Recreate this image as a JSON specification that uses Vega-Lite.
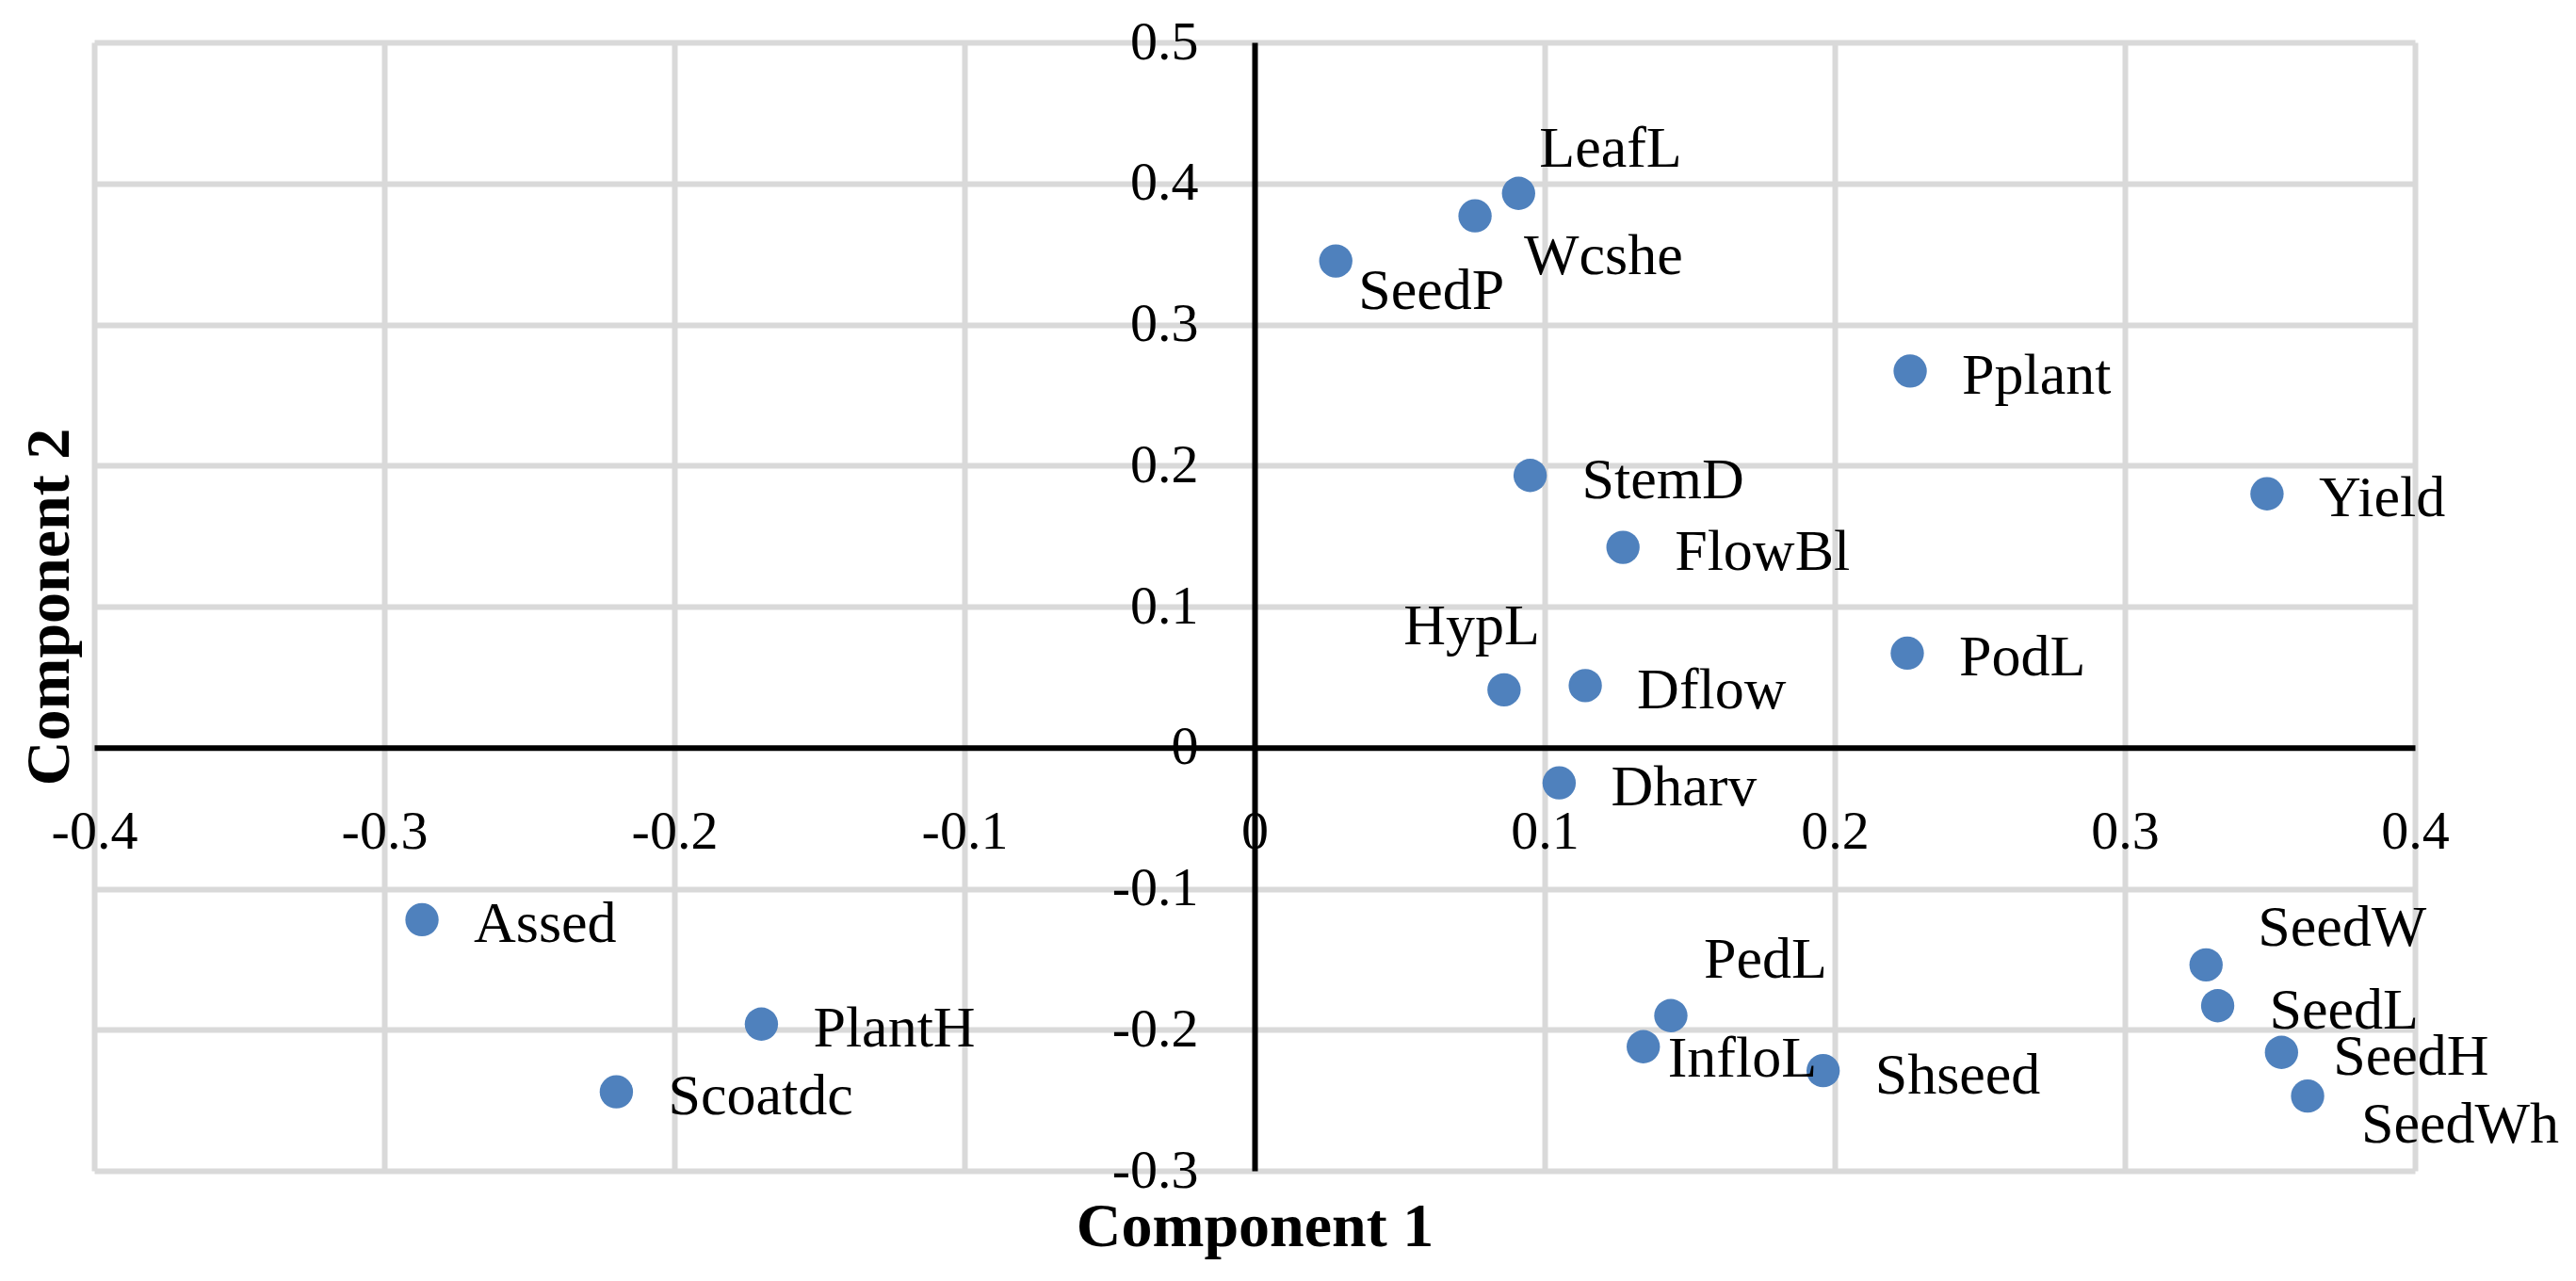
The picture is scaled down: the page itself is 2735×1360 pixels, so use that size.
{
  "$schema": "https://vega.github.io/schema/vega-lite/v6.json",
  "width": 2464,
  "height": 1198,
  "autosize": {"type": "none"},
  "padding": {"left": 100, "top": 45, "right": 171, "bottom": 117},
  "background": "white",
  "config": {"view": {"stroke": null}, "font": "Liberation Serif"},
  "data": {
    "values": [
      {"name": "LeafL", "c1": 0.091, "c2": 0.393},
      {"name": "Wcshe", "c1": 0.076, "c2": 0.377},
      {"name": "SeedP", "c1": 0.028, "c2": 0.345},
      {"name": "Pplant", "c1": 0.226, "c2": 0.267},
      {"name": "StemD", "c1": 0.095, "c2": 0.193},
      {"name": "Yield", "c1": 0.349, "c2": 0.180},
      {"name": "FlowBl", "c1": 0.127, "c2": 0.142},
      {"name": "PodL", "c1": 0.225, "c2": 0.067},
      {"name": "HypL", "c1": 0.086, "c2": 0.041},
      {"name": "Dflow", "c1": 0.114, "c2": 0.044},
      {"name": "Dharv", "c1": 0.105, "c2": -0.025},
      {"name": "Assed", "c1": -0.287, "c2": -0.122},
      {"name": "PlantH", "c1": -0.170, "c2": -0.196},
      {"name": "Scoatdc", "c1": -0.220, "c2": -0.244},
      {"name": "PedL", "c1": 0.1435, "c2": -0.190},
      {"name": "InfloL", "c1": 0.134, "c2": -0.212},
      {"name": "Shseed", "c1": 0.196, "c2": -0.229},
      {"name": "SeedW", "c1": 0.328, "c2": -0.154},
      {"name": "SeedL", "c1": 0.332, "c2": -0.183},
      {"name": "SeedH", "c1": 0.354, "c2": -0.216},
      {"name": "SeedWh", "c1": 0.363, "c2": -0.247}
    ]
  },
  "layer": [
    {
      "mark": {"type": "circle", "opacity": 0},
      "encoding": {
        "x": {
          "field": "c1", "type": "quantitative",
          "scale": {"domain": [-0.4, 0.4], "nice": false, "zero": false},
          "axis": {
            "orient": "bottom",
            "values": [-0.4, -0.3, -0.2, -0.1, 0.1, 0.2, 0.3, 0.4],
            "grid": true, "gridColor": "#D9D9D9", "gridWidth": 6,
            "labels": false, "ticks": false, "domain": false,
            "title": "Component 1", "titleFont": "Liberation Serif", "titleFontSize": 66,
            "titleFontWeight": "bold", "titleColor": "black",
            "titleBaseline": "alphabetic", "titlePadding": 79
          }
        },
        "y": {
          "field": "c2", "type": "quantitative",
          "scale": {"domain": [-0.3, 0.5], "nice": false, "zero": false},
          "axis": {
            "orient": "left",
            "values": [-0.3, -0.2, -0.1, 0.1, 0.2, 0.3, 0.4, 0.5],
            "grid": true, "gridColor": "#D9D9D9", "gridWidth": 6,
            "labels": false, "ticks": false, "domain": false,
            "title": "Component 2", "titleFont": "Liberation Serif", "titleFontSize": 66,
            "titleFontWeight": "bold", "titleColor": "black",
            "titleBaseline": "alphabetic", "titlePadding": 28
          }
        }
      }
    },
    {
      "mark": {"type": "circle", "size": 1250, "color": "#4F81BD", "opacity": 1},
      "encoding": {
        "x": {
          "field": "c1", "type": "quantitative",
          "axis": {
            "orient": "bottom",
            "values": [-0.4, -0.3, -0.2, -0.1, 0, 0.1, 0.2, 0.3, 0.4],
            "offset": -449.25, "zindex": 1,
            "grid": false, "ticks": false, "tickSize": 0,
            "domain": true, "domainColor": "black", "domainWidth": 6,
            "labelFont": "Liberation Serif", "labelFontSize": 58, "labelColor": "black",
            "labelPadding": 61, "labelBaseline": "top", "labelFlush": false, "labelOverlap": false,
            "labelExpr": "datum.value == 0 ? '0' : (datum.value < 0 ? '-' : '') + format(abs(datum.value), '.1f')",
            "title": null
          }
        },
        "y": {
          "field": "c2", "type": "quantitative",
          "axis": {
            "orient": "left",
            "values": [-0.3, -0.2, -0.1, 0, 0.1, 0.2, 0.3, 0.4, 0.5],
            "offset": -1232, "zindex": 1,
            "grid": false, "ticks": false, "tickSize": 0,
            "domain": true, "domainColor": "black", "domainWidth": 6,
            "labelFont": "Liberation Serif", "labelFontSize": 58, "labelColor": "black",
            "labelPadding": 60, "labelAlign": "right", "labelBaseline": "middle",
            "labelFlush": false, "labelOverlap": false,
            "labelExpr": "datum.value == 0 ? '0' : (datum.value < 0 ? '-' : '') + format(abs(datum.value), '.1f')",
            "title": null
          }
        }
      }
    },
    {
      "transform": [{"filter": {"field": "name", "oneOf": ["Pplant", "StemD", "Yield", "FlowBl", "PodL", "Dflow", "Dharv", "Assed", "PlantH", "Scoatdc", "Shseed", "SeedL", "SeedH"]}}],
      "mark": {"type": "text", "align": "left", "baseline": "alphabetic", "dx": 55, "dy": 24, "fontSize": 62, "font": "Liberation Serif", "color": "black"},
      "encoding": {
        "x": {"field": "c1", "type": "quantitative", "axis": null},
        "y": {"field": "c2", "type": "quantitative", "axis": null},
        "text": {"field": "name"}
      }
    },
    {
      "transform": [{"filter": {"field": "name", "equal": "LeafL"}}],
      "mark": {"type": "text", "align": "left", "baseline": "alphabetic", "dx": 22, "dy": -28, "fontSize": 62, "font": "Liberation Serif", "color": "black"},
      "encoding": {
        "x": {"field": "c1", "type": "quantitative", "axis": null},
        "y": {"field": "c2", "type": "quantitative", "axis": null},
        "text": {"field": "name"}
      }
    },
    {
      "transform": [{"filter": {"field": "name", "equal": "Wcshe"}}],
      "mark": {"type": "text", "align": "left", "baseline": "alphabetic", "dx": 52, "dy": 62, "fontSize": 62, "font": "Liberation Serif", "color": "black"},
      "encoding": {
        "x": {"field": "c1", "type": "quantitative", "axis": null},
        "y": {"field": "c2", "type": "quantitative", "axis": null},
        "text": {"field": "name"}
      }
    },
    {
      "transform": [{"filter": {"field": "name", "equal": "SeedP"}}],
      "mark": {"type": "text", "align": "left", "baseline": "alphabetic", "dx": 24, "dy": 51, "fontSize": 62, "font": "Liberation Serif", "color": "black"},
      "encoding": {
        "x": {"field": "c1", "type": "quantitative", "axis": null},
        "y": {"field": "c2", "type": "quantitative", "axis": null},
        "text": {"field": "name"}
      }
    },
    {
      "transform": [{"filter": {"field": "name", "equal": "HypL"}}],
      "mark": {"type": "text", "align": "right", "baseline": "alphabetic", "dx": 38, "dy": -48, "fontSize": 62, "font": "Liberation Serif", "color": "black"},
      "encoding": {
        "x": {"field": "c1", "type": "quantitative", "axis": null},
        "y": {"field": "c2", "type": "quantitative", "axis": null},
        "text": {"field": "name"}
      }
    },
    {
      "transform": [{"filter": {"field": "name", "equal": "PedL"}}],
      "mark": {"type": "text", "align": "left", "baseline": "alphabetic", "dx": 35, "dy": -40, "fontSize": 62, "font": "Liberation Serif", "color": "black"},
      "encoding": {
        "x": {"field": "c1", "type": "quantitative", "axis": null},
        "y": {"field": "c2", "type": "quantitative", "axis": null},
        "text": {"field": "name"}
      }
    },
    {
      "transform": [{"filter": {"field": "name", "equal": "InfloL"}}],
      "mark": {"type": "text", "align": "left", "baseline": "alphabetic", "dx": 26, "dy": 32, "fontSize": 62, "font": "Liberation Serif", "color": "black"},
      "encoding": {
        "x": {"field": "c1", "type": "quantitative", "axis": null},
        "y": {"field": "c2", "type": "quantitative", "axis": null},
        "text": {"field": "name"}
      }
    },
    {
      "transform": [{"filter": {"field": "name", "equal": "SeedW"}}],
      "mark": {"type": "text", "align": "left", "baseline": "alphabetic", "dx": 55, "dy": -20, "fontSize": 62, "font": "Liberation Serif", "color": "black"},
      "encoding": {
        "x": {"field": "c1", "type": "quantitative", "axis": null},
        "y": {"field": "c2", "type": "quantitative", "axis": null},
        "text": {"field": "name"}
      }
    },
    {
      "transform": [{"filter": {"field": "name", "equal": "SeedWh"}}],
      "mark": {"type": "text", "align": "left", "baseline": "alphabetic", "dx": 57, "dy": 49, "fontSize": 62, "font": "Liberation Serif", "color": "black"},
      "encoding": {
        "x": {"field": "c1", "type": "quantitative", "axis": null},
        "y": {"field": "c2", "type": "quantitative", "axis": null},
        "text": {"field": "name"}
      }
    }
  ],
  "resolve": {"axis": {"x": "independent", "y": "independent"}}
}
